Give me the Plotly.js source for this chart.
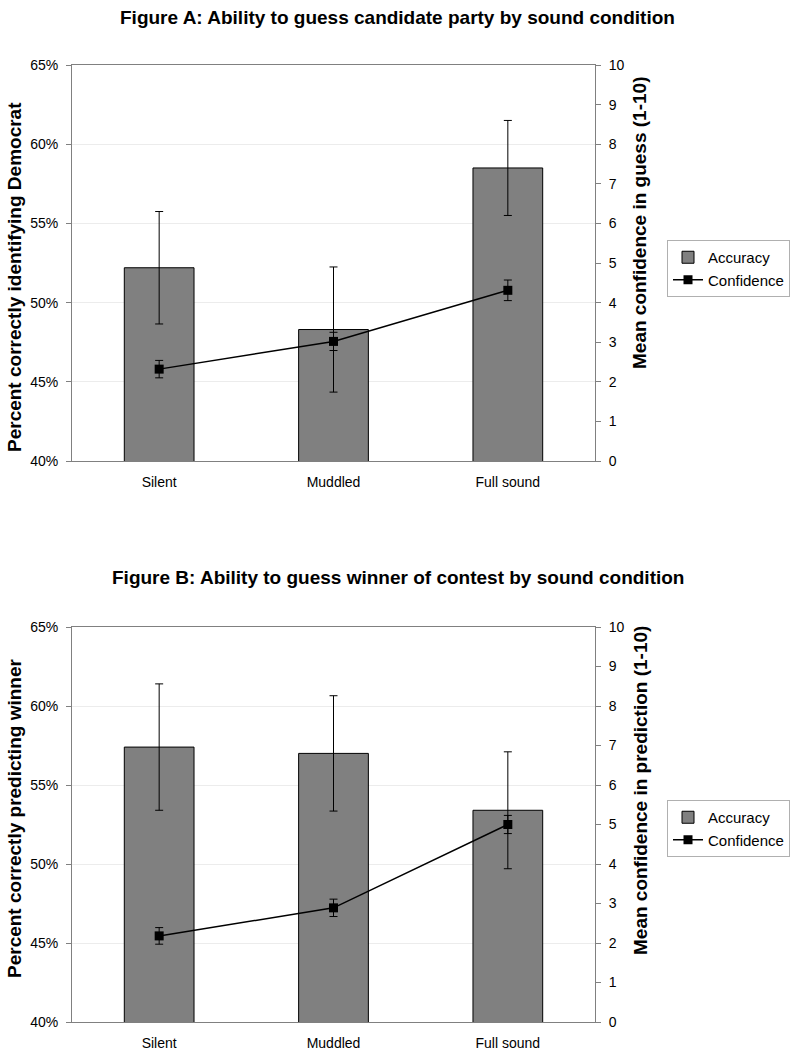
<!DOCTYPE html>
<html>
<head>
<meta charset="utf-8">
<script src="https://cdn.plot.ly/plotly-3.0.1.min.js"></script>
<style>
  body { margin: 0; background: #fff; }
  #chart { width: 801px; height: 1050px; }
</style>
</head>
<body>
<div id="chart"></div>
<script>
// sound conditions
const conditions = ['Silent', 'Muddled', 'Full sound'];

// Figure A - guessing candidate party
const accuracyA = [52.2, 48.3, 58.5];
const accuracyErrA = [3.55, 3.95, 3.0];
const confidenceA = [2.32, 3.02, 4.31];
const confidenceErrA = [0.22, 0.23, 0.26];

// Figure B - guessing the winner
const accuracyB = [57.4, 57.0, 53.4];
const accuracyErrB = [4.0, 3.65, 3.7];
const confidenceB = [2.18, 2.89, 5.0];
const confidenceErrB = [0.21, 0.22, 0.23];

const titleA = 'Figure A: Ability to guess candidate party by sound condition';
const titleB = 'Figure B: Ability to guess winner of contest by sound condition';
const leftTitleA = 'Percent correctly identifying Democrat';
const rightTitleA = 'Mean confidence in guess (1-10)';
const leftTitleB = 'Percent correctly predicting winner';
const rightTitleB = 'Mean confidence in prediction (1-10)';

const FONT = 'Liberation Sans, Arial, Helvetica, sans-serif';
const H = 1050;

function barTrace(vals, errs, xa, ya, leg) {
    return {
        type: 'bar', x: conditions, y: vals, name: 'Accuracy',
        xaxis: xa, yaxis: ya, legend: leg, width: 0.4,
        marker: {color: '#808080', line: {color: '#000', width: 1}},
        error_y: {type: 'data', array: errs, color: '#000', thickness: 1, width: 4}
    };
}

function lineTrace(vals, errs, xa, ya, leg) {
    return {
        type: 'scatter', mode: 'lines+markers', x: conditions, y: vals, name: 'Confidence',
        xaxis: xa, yaxis: ya, legend: leg,
        line: {color: '#000', width: 1.5},
        marker: {symbol: 'square', size: 9, color: '#000'},
        error_y: {type: 'data', array: errs, color: '#000', thickness: 1, width: 4}
    };
}

let data = [
    barTrace(accuracyA, accuracyErrA, 'x', 'y', 'legend'),
    lineTrace(confidenceA, confidenceErrA, 'x', 'y2', 'legend'),
    barTrace(accuracyB, accuracyErrB, 'x2', 'y3', 'legend2'),
    lineTrace(confidenceB, confidenceErrB, 'x2', 'y4', 'legend2')
];

// pixel rows of the two plot boxes
const domA = [(H - 461) / H, (H - 65) / H];
const domB = [(H - 1022) / H, (H - 627) / H];

function xAxis(anchor) {
    return {
        anchor: anchor, domain: [0, 1], range: [-0.5, 2.5],
        showline: true, linecolor: '#808080', linewidth: 1, mirror: true,
        ticks: '', ticklabelstandoff: 8, tickfont: {size: 14, color: '#000'}, showgrid: false
    };
}
function leftAxis(dom, anchor) {
    return {
        anchor: anchor, domain: dom, range: [40, 65], dtick: 5, ticksuffix: '%',
        showline: true, linecolor: '#808080', ticks: 'outside', ticklen: 5, tickcolor: '#808080',
        ticklabelstandoff: 5,
        gridcolor: '#ececec', zeroline: false, tickfont: {size: 14, color: '#000'}
    };
}
function rightAxis(over, anchor) {
    return {
        anchor: anchor, overlaying: over, side: 'right', range: [0, 10], dtick: 1,
        showline: true, linecolor: '#808080', ticks: 'outside', ticklen: 5, tickcolor: '#808080',
        ticklabelstandoff: 5,
        showgrid: false, zeroline: false, tickfont: {size: 14, color: '#000'}
    };
}
function legendBox(topPx) {
    return {
        x: (667 - 72) / 523, y: (H - topPx) / H, xanchor: 'left', yanchor: 'top',
        bgcolor: '#fff', bordercolor: '#b0b0b0', borderwidth: 1,
        font: {size: 15, color: '#000'}, traceorder: 'normal', itemwidth: 30
    };
}
// text placed at pixel positions of the page
function label(text, xPx, yPx, size, angle) {
    return {
        text: text, xref: 'paper', yref: 'paper',
        x: (xPx - 72) / 523, y: (H - yPx) / H, showarrow: false,
        xanchor: 'center', yanchor: 'middle', textangle: angle || 0,
        font: {size: size, weight: 'bold', color: '#000'}
    };
}

let layout = {
    width: 801, height: H,
    margin: {l: 72, r: 206, t: 0, b: 0},
    font: {family: FONT, color: '#000'},
    paper_bgcolor: '#fff', plot_bgcolor: '#fff',
    xaxis: xAxis('y'),
    xaxis2: xAxis('y3'),
    yaxis: leftAxis(domA, 'x'),
    yaxis2: rightAxis('y', 'x'),
    yaxis3: leftAxis(domB, 'x2'),
    yaxis4: rightAxis('y3', 'x2'),
    legend: legendBox(240),
    legend2: legendBox(800),
    annotations: [
        label(titleA, 397, 17, 19),
        label(titleB, 398, 577, 19),
        label(leftTitleA, 14, 277, 19, -90),
        label(rightTitleA, 640, 223, 19, -90),
        label(leftTitleB, 14, 819, 19, -90),
        label(rightTitleB, 640, 791, 19, -90)
    ]
};

Plotly.newPlot('chart', data, layout, {displayModeBar: false, staticPlot: true});
</script>
</body>
</html>
